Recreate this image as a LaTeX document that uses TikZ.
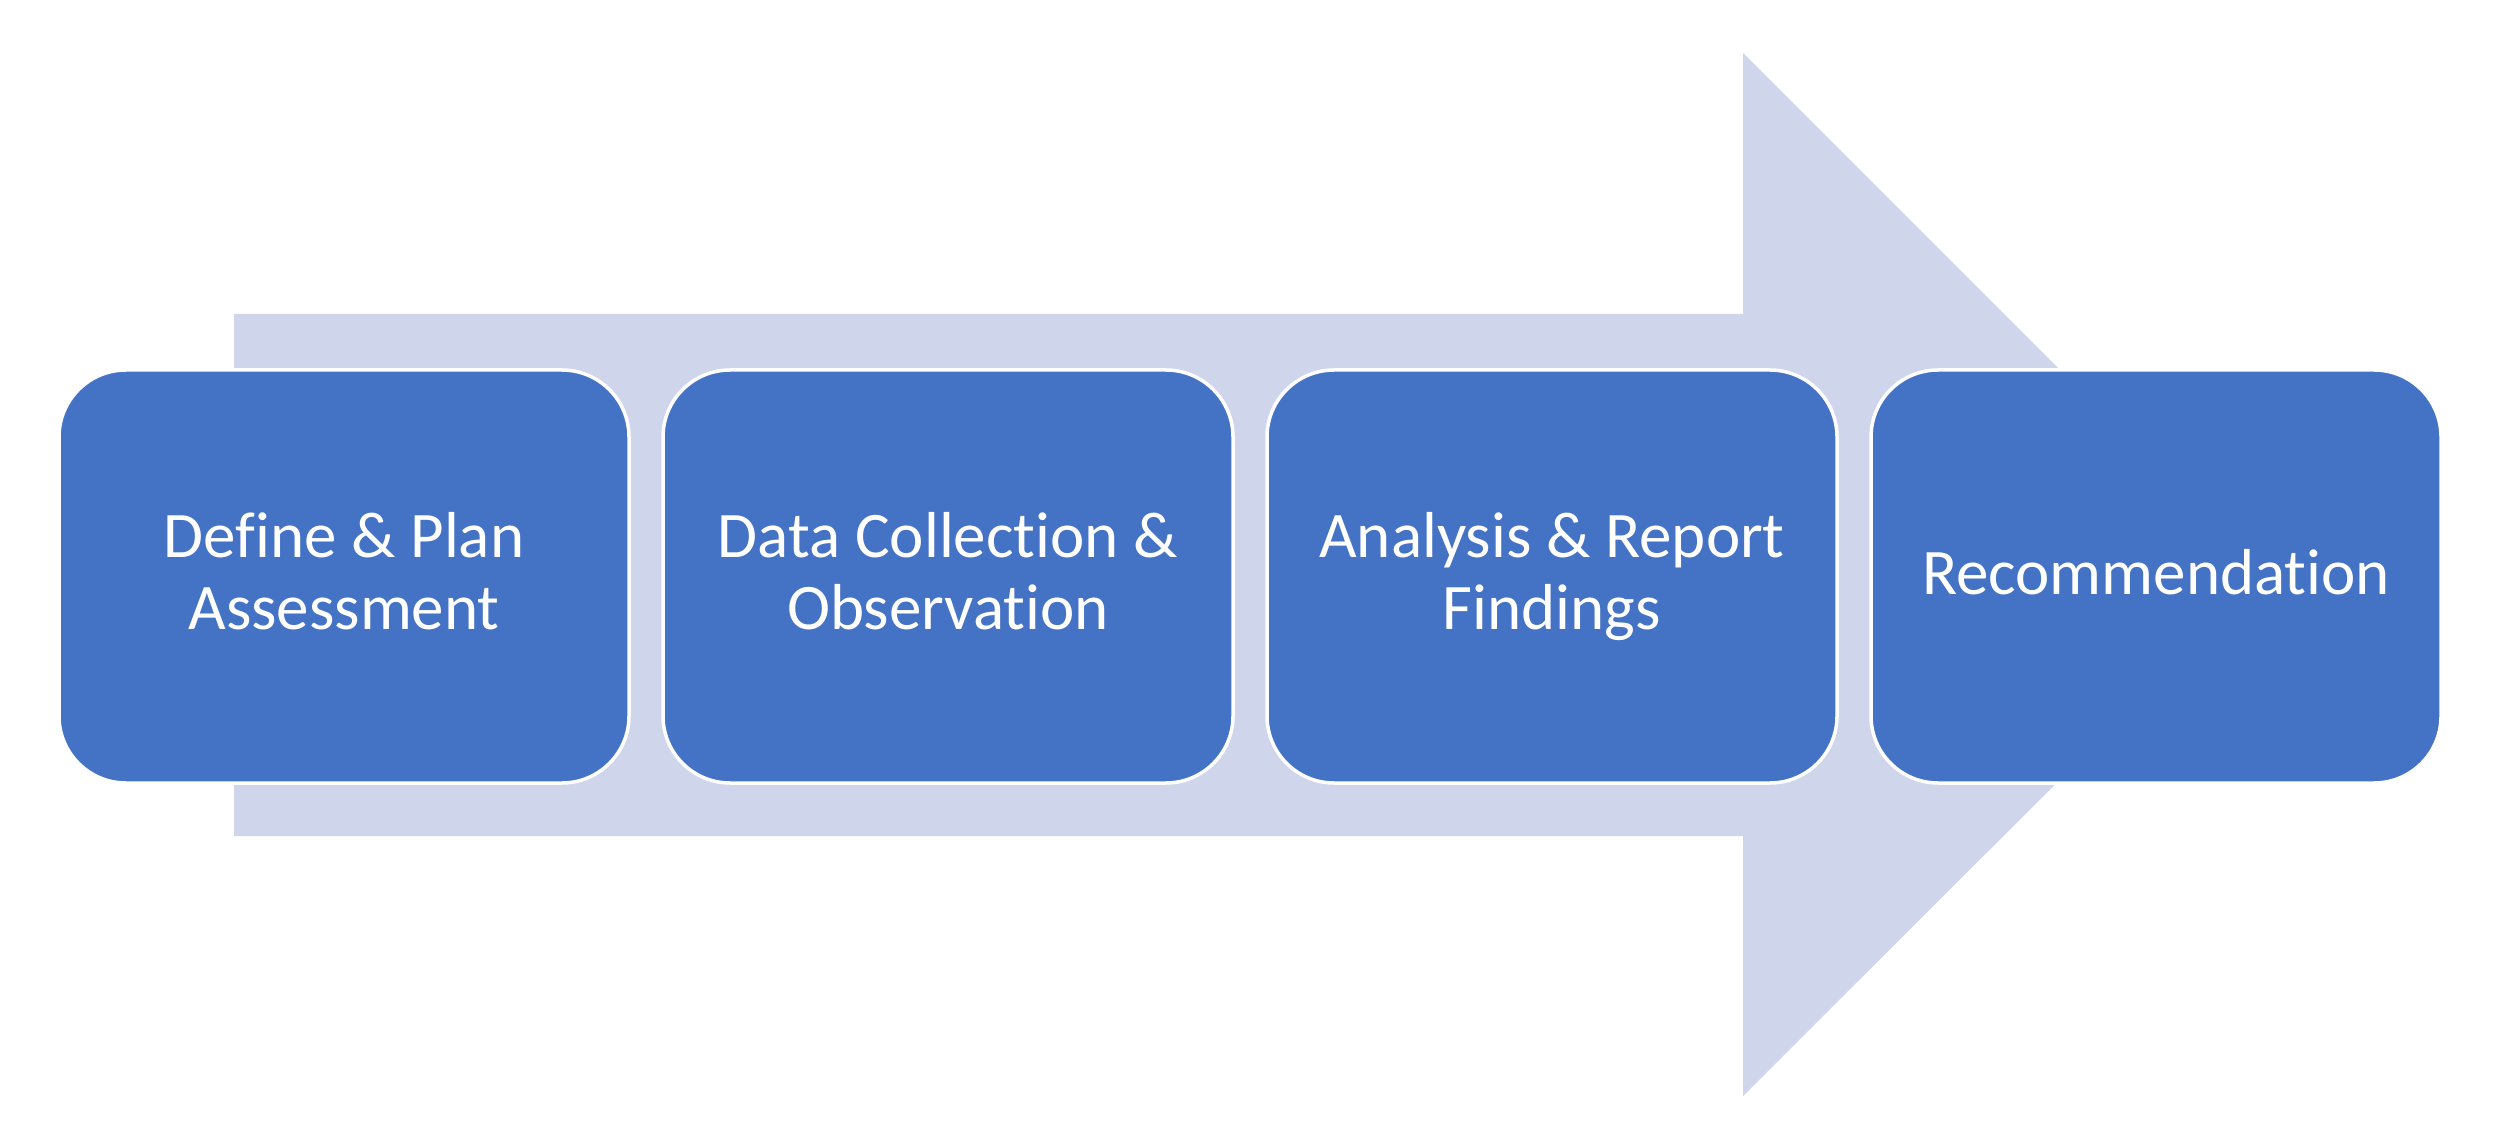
\documentclass[tikz,border=0pt]{standalone}
\usepackage{fontspec}
\setmainfont{Carlito}[Ligatures={NoCommon,NoRequired,NoContextual}]
\definecolor{boxblue}{HTML}{4472C4}
\definecolor{arrowfill}{HTML}{CFD5EA}
\begin{document}
\begin{tikzpicture}[x=1pt,y=1pt,
  stage/.style={rounded corners=67pt, fill=boxblue, draw=white, line width=3.5pt,
    minimum width=570pt, minimum height=413pt, inner sep=0pt,
    text=white, align=center, font=\fontsize{65}{72}\selectfont},
  twoline/.style={text height=150pt, text depth=43pt},
  oneline/.style={text height=50pt, text depth=13pt}]
\useasboundingbox (0,0) rectangle (2515,1120);
% big arrow (y = 1120 - pixel row)
\fill[arrowfill] (234,806) -- (1743,806) -- (1743,1067) -- (2265,545)
  -- (1743,24) -- (1743,284) -- (234,284) -- cycle;
\node[stage,twoline] (s1) at (344,543.5) {Define \& Plan\\Assessment};
\node[stage,twoline] (s2) at (948,543.5) {Data Collection \&\\Observation};
\node[stage,twoline] (s3) at (1552,543.5) {Analysis \& Report\\Findings};
\node[stage,oneline] (s4) at (2156,543.5) {Recommendation};
\end{tikzpicture}
\end{document}
